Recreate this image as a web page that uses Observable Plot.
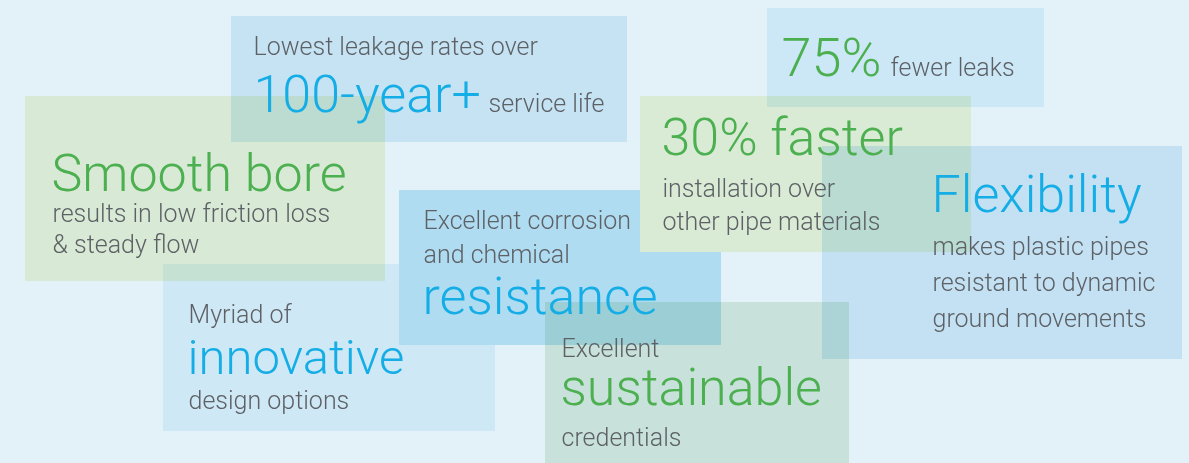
<!DOCTYPE html>
<html>
<head>
<meta charset="utf-8">
<script src="https://cdn.jsdelivr.net/npm/d3@7"></script>
<script src="https://cdn.jsdelivr.net/npm/@observablehq/plot@0.6"></script>
<style>
  html, body { margin: 0; padding: 0; background: #e3f1f8; }
  #chart svg { display: block; }
</style>
</head>
<body>
<div id="chart"></div>
<script>
// Boxes (drawn in this order)
const boxNames = ["leakage", "smooth", "myriad", "resist", "faster", "fewer", "flex", "sustain"];
const boxX1 = [231, 25, 163, 399, 640, 767, 822, 545];
const boxX2 = [627, 385, 495, 721, 971, 1044, 1182, 849];
const boxY1 = [16, 96, 264, 190, 96, 8, 146, 302];
const boxY2 = [142, 281, 431, 345, 252, 107, 359, 463];
const boxFill = ["#c6e3f3", "#f3f8dc", "#e9f6fc", "#b0dcf2", "#d9ead5", "#e6f6fd", "#dbeffa", "#e1efe1"];
const boxBlend = ["normal", "multiply", "multiply", "normal", "normal", "multiply", "multiply", "multiply"];

// Texts
const textLabels = [
  "Lowest leakage rates over", "100-year+", "service life",
  "75%", "fewer leaks",
  "30% faster", "installation over", "other pipe materials",
  "Smooth bore", "results in low friction loss", "& steady flow",
  "Excellent corrosion", "and chemical", "resistance",
  "Flexibility", "makes plastic pipes", "resistant to dynamic", "ground movements",
  "Myriad of", "innovative", "design options",
  "Excellent", "sustainable", "credentials"
];
const textX = [253, 253, 488, 781, 890, 661, 662, 662, 51, 52, 52, 423, 423, 422, 931, 932, 932, 932, 188, 187, 188, 561, 560, 561];
const textY = [54, 111, 111, 75, 75, 154, 196, 229, 190, 221, 252, 228, 262, 313, 211, 254, 290, 326, 322, 373, 408, 356, 404, 445];
const textSize = [25, 52, 25, 54, 25, 52, 25, 25, 52, 25, 25, 25, 25, 52, 52, 25, 25, 25, 25, 49, 25, 25, 52, 25];
const textRole = ["grey", "blue", "grey", "green", "grey", "green", "grey", "grey", "green", "grey", "grey", "grey", "grey", "blue", "blue", "grey", "grey", "grey", "grey", "blue", "grey", "grey", "green", "grey"];
const roleColor = {grey: "#5d6166", blue: "#14ade5", green: "#4caf50"};

const boxes = boxNames.map((n, i) => ({n, x1: boxX1[i], x2: boxX2[i], y1: boxY1[i], y2: boxY2[i]}));
const texts = textLabels.map((t, i) => ({t, x: textX[i], y: textY[i], s: textSize[i], c: roleColor[textRole[i]]}));

const marks = boxes.map((b, i) => Plot.rect([b], {
  x1: "x1", x2: "x2", y1: "y1", y2: "y2",
  fill: boxFill[i], mixBlendMode: boxBlend[i]
}));

const sizes = [...new Set(textSize)];
const textMarks = sizes.map(s => Plot.text(texts.filter(d => d.s === s), {
  x: "x", y: "y", text: "t", fill: "c",
  fontSize: s, fontWeight: 300, fontFamily: "Roboto",
  textAnchor: "start", lineAnchor: "bottom"
}));

const chart = Plot.plot({
  width: 1189,
  height: 463,
  margin: 0,
  style: {background: "#e3f1f8", fontFamily: "Roboto"},
  x: {domain: [0, 1189], range: [0, 1189], axis: null},
  y: {domain: [0, 463], range: [0, 463], axis: null},
  marks: [...marks, ...textMarks]
});
document.getElementById("chart").appendChild(chart);
</script>
</body>
</html>
